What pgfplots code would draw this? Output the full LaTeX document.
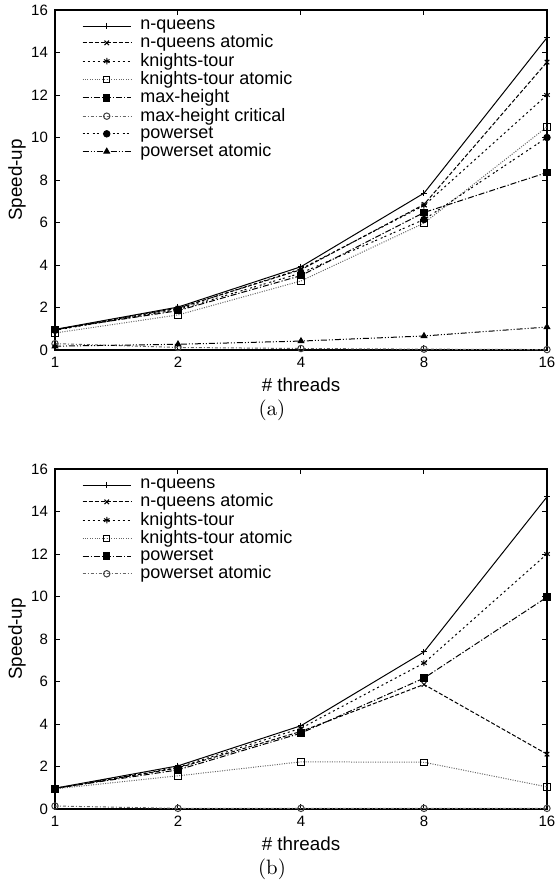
\documentclass[border=0pt]{standalone}
\usepackage{fontspec}
\usepackage{pgfplots}
\pgfplotsset{compat=1.18}
\newfontfamily\helv{Liberation Sans}

% gnuplot-like monochrome line types
\pgfplotsset{
  lt1/.style={black,solid,mark=+,mark options={solid}},
  lt2/.style={black,dash pattern=on 2pt off 1pt,mark=x,mark options={solid}},
  lt3/.style={black,dash pattern=on 1pt off 1.5pt,mark=asterisk,mark options={solid}},
  lt4/.style={black!60,dash pattern=on 0.5pt off 0.7pt,mark=square,mark options={solid,black}},
  lt5/.style={black,dash pattern=on 3pt off 1pt on 0.6pt off 1pt,mark=square*,mark options={solid}},
  lt6/.style={black!60,dash pattern=on 1.5pt off 1pt on 0.5pt off 1pt,mark=o,mark options={solid,black!75}},
  lt7/.style={black,dash pattern=on 1pt off 1pt on 1pt off 2pt,mark=*,mark options={solid}},
  lt8/.style={black,dash pattern=on 3pt off 1pt on 0.5pt off 1pt on 0.5pt off 1pt,mark=triangle*,mark options={solid}},
  every axis/.append style={
    scale only axis, width=246pt, height=170pt,
    xmin=0, xmax=4,
    xtick={0,1,2,3,4}, xticklabels={1,2,4,8,16},
    ymin=0, ymax=16, ytick={0,2,4,6,8,10,12,14,16},
    tick align=inside, major tick length=2.5pt,
    axis line style={line width=0.75pt},
    every tick/.style={black,line width=0.5pt},
    /pgf/number format/assume math mode=true,
    tick label style={font=\helv\fontsize{7.5}{9}\selectfont},
    xlabel={\# threads}, ylabel={Speed-up},
    every axis x label/.style={at={(axis description cs:0.5,0)},yshift=-17.5pt,
      anchor=center,font=\helv\fontsize{9.4}{11}\selectfont},
    every axis y label/.style={at={(axis description cs:0,0.5)},xshift=-19pt,
      rotate=90,anchor=center,font=\helv\fontsize{9.4}{11}\selectfont},
    legend style={at={(0.042,0.99)},anchor=north west,draw=none,fill=none,
      font=\helv\fontsize{9}{10}\selectfont,row sep=-0.85pt,
      nodes={inner sep=1pt},
      /tikz/every odd column/.append style={column sep=3.5pt}},
    legend cell align=left,
    legend image code/.code={%
      \draw[mark repeat=2,mark phase=2] plot coordinates {(0cm,0cm) (0.425cm,0cm) (0.85cm,0cm)};},
  },
  every axis plot/.append style={line width=0.5pt,mark size=1.6pt},
}

\begin{document}
\begin{tikzpicture}
\path[use as bounding box] (-27.5pt,-267.5pt) rectangle (249.5pt,175pt);

% x positions 0..4 stand for 1,2,4,8,16 threads
\begin{axis}
\addplot[lt1] coordinates {(0,0.97) (1,2.02) (2,3.92) (3,7.38) (4,14.7)};
\addlegendentry{n-queens}
\addplot[lt2] coordinates {(0,0.95) (1,1.97) (2,3.78) (3,6.85) (4,13.55)};
\addlegendentry{n-queens atomic}
\addplot[lt3] coordinates {(0,0.95) (1,1.95) (2,3.82) (3,6.8) (4,12.0)};
\addlegendentry{knights-tour}
\addplot[lt4] coordinates {(0,0.8) (1,1.65) (2,3.25) (3,5.97) (4,10.5)};
\addlegendentry{knights-tour atomic}
\addplot[lt5] coordinates {(0,0.97) (1,1.85) (2,3.5) (3,6.47) (4,8.35)};
\addlegendentry{max-height}
\addplot[lt6] coordinates {(0,0.3) (1,0.12) (2,0.07) (3,0.04) (4,0.02)};
\addlegendentry{max-height critical}
\addplot[lt7] coordinates {(0,0.93) (1,1.9) (2,3.62) (3,6.14) (4,10.0)};
\addlegendentry{powerset}
\addplot[lt8] coordinates {(0,0.18) (1,0.27) (2,0.42) (3,0.66) (4,1.08)};
\addlegendentry{powerset atomic}
\end{axis}
\node[font=\fontsize{10.4}{12}\selectfont] at (108.5pt,-30pt) {(a)};

\begin{axis}[at={(0,-229.5pt)}]
\addplot[lt1] coordinates {(0,0.98) (1,2.03) (2,3.92) (3,7.39) (4,14.69)};
\addlegendentry{n-queens}
\addplot[lt2] coordinates {(0,0.96) (1,1.93) (2,3.65) (3,5.86) (4,2.58)};
\addlegendentry{n-queens atomic}
\addplot[lt3] coordinates {(0,0.97) (1,1.96) (2,3.8) (3,6.87) (4,12.0)};
\addlegendentry{knights-tour}
\addplot[lt4] coordinates {(0,0.95) (1,1.56) (2,2.22) (3,2.2) (4,1.04)};
\addlegendentry{knights-tour atomic}
\addplot[lt5] coordinates {(0,0.97) (1,1.84) (2,3.57) (3,6.16) (4,9.97)};
\addlegendentry{powerset}
\addplot[lt6] coordinates {(0,0.14) (1,0.03) (2,0.03) (3,0.03) (4,0.03)};
\addlegendentry{powerset atomic}
\end{axis}
\node[font=\fontsize{10.4}{12}\selectfont] at (108.5pt,-259.5pt) {(b)};
\end{tikzpicture}
\end{document}
